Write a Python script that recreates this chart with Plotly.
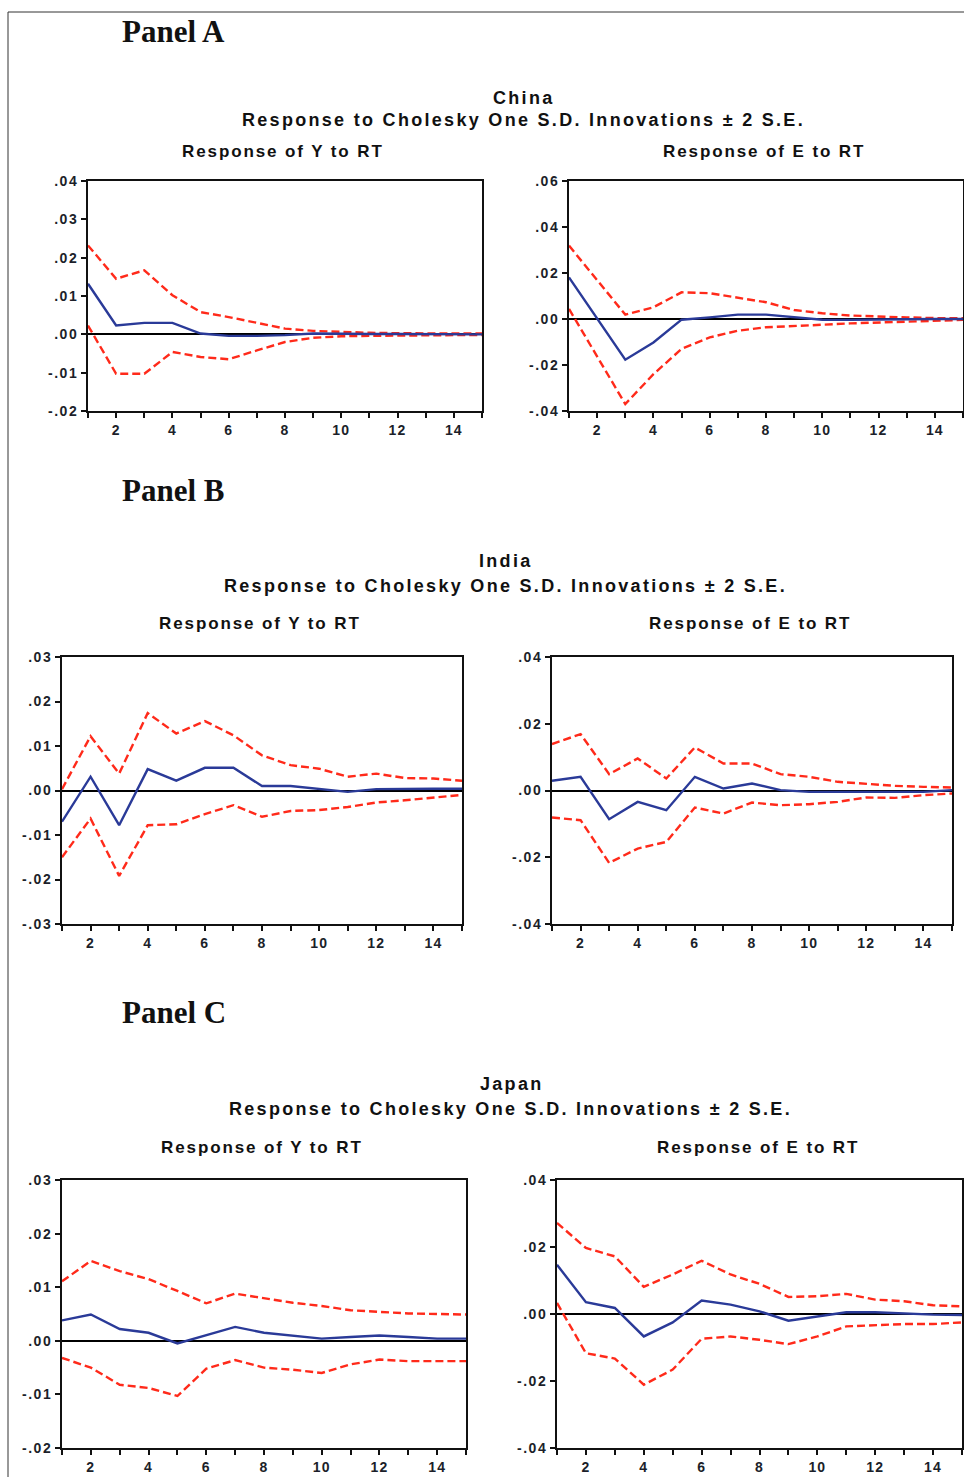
import plotly.graph_objects as go

W, H = 964, 1477

periods = list(range(1, 16))

# ---- Panel A: China ----
china_y_resp = [0.0132, 0.0023, 0.0030, 0.0030, 0.0002, -0.0004, -0.0004, -0.0002, 0.0002, 0.0001, 0.0001, 0.0001, 0.0001, 0.0000, 0.0000]
china_y_up = [0.0232, 0.0145, 0.0167, 0.0102, 0.0058, 0.0045, 0.0030, 0.0015, 0.0009, 0.0006, 0.0004, 0.0003, 0.0002, 0.0002, 0.0002]
china_y_lo = [0.0023, -0.0103, -0.0103, -0.0046, -0.0059, -0.0065, -0.0042, -0.0020, -0.0009, -0.0005, -0.0004, -0.0003, -0.0002, -0.0002, -0.0002]

china_e_resp = [0.0181, 0.0001, -0.0177, -0.0102, -0.0003, 0.0007, 0.0019, 0.0019, 0.0007, -0.0003, -0.0004, -0.0004, -0.0001, 0.0000, 0.0000]
china_e_up = [0.0319, 0.0167, 0.0019, 0.0051, 0.0116, 0.0112, 0.0094, 0.0073, 0.0039, 0.0025, 0.0015, 0.0010, 0.0007, 0.0004, 0.0003]
china_e_lo = [0.0044, -0.0160, -0.0370, -0.0240, -0.0130, -0.0080, -0.0051, -0.0036, -0.0029, -0.0025, -0.0019, -0.0015, -0.0010, -0.0007, -0.0004]

# ---- Panel B: India ----
india_y_resp = [-0.0070, 0.0031, -0.0078, 0.0048, 0.0022, 0.0051, 0.0051, 0.0010, 0.0010, 0.0003, -0.0003, 0.0003, 0.0004, 0.0004, 0.0004]
india_y_up = [0.0003, 0.0122, 0.0038, 0.0174, 0.0128, 0.0156, 0.0124, 0.0079, 0.0057, 0.0049, 0.0031, 0.0038, 0.0028, 0.0027, 0.0022]
india_y_lo = [-0.0150, -0.0063, -0.0192, -0.0078, -0.0076, -0.0053, -0.0033, -0.0059, -0.0046, -0.0044, -0.0037, -0.0027, -0.0022, -0.0016, -0.0010]

india_e_resp = [0.0029, 0.0041, -0.0086, -0.0034, -0.0059, 0.0041, 0.0006, 0.0021, 0.0001, -0.0004, -0.0004, -0.0004, -0.0004, -0.0004, 0.0001]
india_e_up = [0.0139, 0.0169, 0.0049, 0.0096, 0.0036, 0.0129, 0.0081, 0.0081, 0.0049, 0.0041, 0.0026, 0.0019, 0.0014, 0.0011, 0.0009]
india_e_lo = [-0.0081, -0.0089, -0.0217, -0.0174, -0.0154, -0.0051, -0.0069, -0.0036, -0.0044, -0.0041, -0.0034, -0.0021, -0.0022, -0.0014, -0.0009]

# ---- Panel C: Japan ----
japan_y_resp = [0.0038, 0.0049, 0.0022, 0.0015, -0.0005, 0.0010, 0.0026, 0.0015, 0.0009, 0.0004, 0.0007, 0.0010, 0.0007, 0.0004, 0.0004]
japan_y_up = [0.0111, 0.0149, 0.0130, 0.0115, 0.0093, 0.0070, 0.0088, 0.0080, 0.0071, 0.0065, 0.0057, 0.0054, 0.0051, 0.0050, 0.0049]
japan_y_lo = [-0.0032, -0.0050, -0.0082, -0.0088, -0.0103, -0.0052, -0.0036, -0.0050, -0.0054, -0.0060, -0.0044, -0.0035, -0.0038, -0.0038, -0.0038]

japan_e_resp = [0.0147, 0.0035, 0.0018, -0.0067, -0.0025, 0.0040, 0.0028, 0.0008, -0.0020, -0.0007, 0.0005, 0.0005, 0.0001, -0.0002, -0.0003]
japan_e_up = [0.0272, 0.0197, 0.0172, 0.0081, 0.0118, 0.0159, 0.0118, 0.0090, 0.0051, 0.0053, 0.0060, 0.0043, 0.0038, 0.0026, 0.0023]
japan_e_lo = [0.0033, -0.0117, -0.0133, -0.0211, -0.0166, -0.0074, -0.0067, -0.0077, -0.0090, -0.0067, -0.0037, -0.0034, -0.0030, -0.0030, -0.0025]

panel_labels = ["Panel A", "Panel B", "Panel C"]
countries = ["China", "India", "Japan"]
main_title = "Response to Cholesky One S.D. Innovations \u00b1 2 S.E."
sub_y = "Response of Y to RT"
sub_e = "Response of E to RT"

# y-axis ranges / tick steps per subplot
y_ranges = [(-0.02, 0.04, 0.01), (-0.04, 0.06, 0.02),
            (-0.03, 0.03, 0.01), (-0.04, 0.04, 0.02),
            (-0.02, 0.03, 0.01), (-0.04, 0.04, 0.02)]

series = [
    (china_y_resp, china_y_up, china_y_lo),
    (china_e_resp, china_e_up, china_e_lo),
    (india_y_resp, india_y_up, india_y_lo),
    (india_e_resp, india_e_up, india_e_lo),
    (japan_y_resp, japan_y_up, japan_y_lo),
    (japan_e_resp, japan_e_up, japan_e_lo),
]

# pixel boxes (left, right, top, bottom)
boxes = [(88, 482, 181, 411), (569, 963, 181, 411),
         (62, 462, 657, 924), (552, 952, 657, 924),
         (62, 466, 1180, 1448), (557, 962, 1180, 1448)]

def X(px):
    return px / W

def Y(py):
    return 1 - py / H

def fmt(v):
    s = f"{v:.2f}"
    return s.replace("0.", ".", 1)

def spaced(txt, sp):
    return f'<span style="letter-spacing:{sp}px">{txt}</span>'

BLUE = "#2a3a98"
RED = "#ff2a1a"
FONT = "Liberation Sans, Arial, sans-serif"
TICKFONT = dict(family=FONT, size=14, color="#1c1f2a")

fig = go.Figure()
layout = {}
for i, ((resp, up, lo), (ymin, ymax, step), (l, r, t, b)) in enumerate(zip(series, y_ranges, boxes)):
    k = "" if i == 0 else str(i + 1)
    xa, ya = "x" + k, "y" + k
    for vals, color, dash in ((up, RED, "8px,4px"), (lo, RED, "8px,4px"), (resp, BLUE, "solid")):
        fig.add_trace(go.Scatter(x=periods, y=vals, xaxis=xa, yaxis=ya, mode="lines",
                                 line=dict(color=color, width=2.4, dash=dash),
                                 showlegend=False, hoverinfo="skip"))
    n = int(round((ymax - ymin) / step))
    yt = [round(ymin + j * step, 4) for j in range(n + 1)]
    layout["xaxis" + k] = dict(domain=[X(l), X(r)], anchor=ya, range=[1, 15],
                               tickvals=periods,
                               ticktext=[spaced("<b>%d</b>" % p, 1.2) if p % 2 == 0 else "" for p in periods],
                               ticks="outside", ticklen=5, tickwidth=2, tickcolor="#111",
                               showline=True, linecolor="#111", linewidth=2, mirror=True,
                               showgrid=False, zeroline=False, tickfont=TICKFONT, automargin=False)
    layout["yaxis" + k] = dict(domain=[Y(b), Y(t)], anchor=xa, range=[ymin, ymax],
                               tickvals=yt, ticktext=[spaced("<b>" + fmt(v) + "</b>", 1.5) for v in yt],
                               ticks="outside", ticklen=5, tickwidth=2, tickcolor="#111",
                               showline=True, linecolor="#111", linewidth=2, mirror=True,
                               showgrid=False, zeroline=True, zerolinecolor="#000",
                               zerolinewidth=1.5, tickfont=TICKFONT, automargin=False)

annotations = []
panel_y = [32, 490, 1012]
country_pos = [(524, 98), (506, 561), (512, 1084)]
title_pos = [(523, 120), (505, 586), (510, 1109)]
sub_pos = [((283, 151), (764, 151)), ((260, 623), (750, 623)), ((262, 1147), (758, 1147))]

for p in range(3):
    annotations.append(dict(x=X(120), y=Y(panel_y[p]), xref="paper", yref="paper",
                            xanchor="left", yanchor="middle", showarrow=False,
                            text="<b>" + panel_labels[p] + "</b>",
                            font=dict(family="Liberation Serif, Times New Roman, serif", size=31, color="#111")))
    cx, cy = country_pos[p]
    annotations.append(dict(x=X(cx), y=Y(cy), xref="paper", yref="paper",
                            xanchor="center", yanchor="middle", showarrow=False,
                            text=spaced("<b>" + countries[p] + "</b>", 2.3),
                            font=dict(family=FONT, size=18, color="#111")))
    tx, ty = title_pos[p]
    annotations.append(dict(x=X(tx), y=Y(ty), xref="paper", yref="paper",
                            xanchor="center", yanchor="middle", showarrow=False,
                            text=spaced("<b>" + main_title + "</b>", 2.3),
                            font=dict(family=FONT, size=18, color="#111")))
    for (sx, sy), s in zip(sub_pos[p], (sub_y, sub_e)):
        annotations.append(dict(x=X(sx), y=Y(sy), xref="paper", yref="paper",
                                xanchor="center", yanchor="middle", showarrow=False,
                                text=spaced("<b>" + s + "</b>", 1.9),
                                font=dict(family=FONT, size=17, color="#111")))

shapes = [
    dict(type="line", xref="paper", yref="paper", x0=X(8), x1=1, y0=Y(12), y1=Y(12),
         line=dict(color="#333", width=1)),
    dict(type="line", xref="paper", yref="paper", x0=X(8), x1=X(8), y0=Y(12), y1=0,
         line=dict(color="#333", width=1)),
]

fig.update_layout(width=W, height=H, margin=dict(l=0, r=0, t=0, b=0, autoexpand=False),
                  paper_bgcolor="white", plot_bgcolor="white",
                  annotations=annotations, shapes=shapes, **layout)

fig.write_html("out.html", config={"displayModeBar": False},
               post_script="document.body.style.margin='0';document.body.style.overflow='hidden';")
